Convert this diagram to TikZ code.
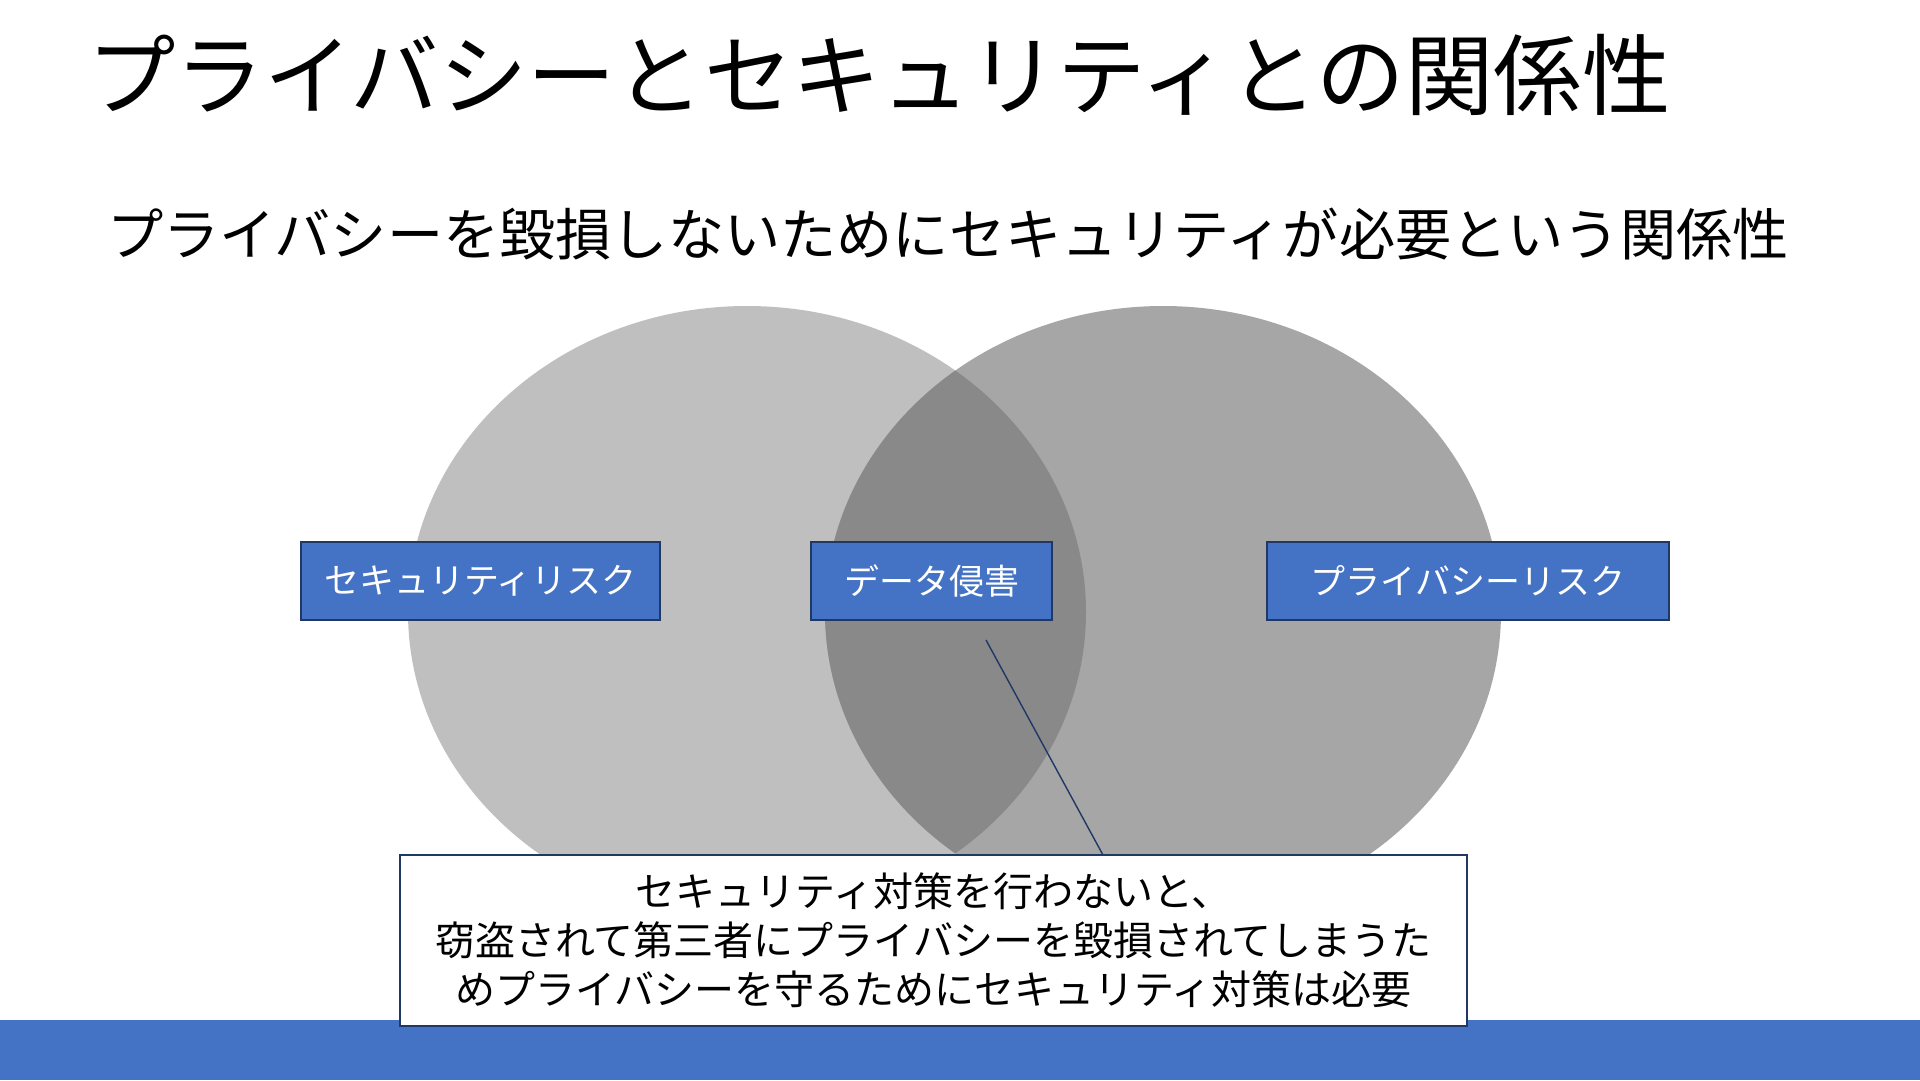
\documentclass[tikz,border=0pt]{standalone}
\usepackage{fontspec}
\setmainfont{Noto Sans CJK JP}
\definecolor{accent}{HTML}{4472C4}
\definecolor{navy}{HTML}{203864}
\definecolor{leftgray}{HTML}{BFBFBF}
\definecolor{rightgray}{HTML}{A6A6A6}
\definecolor{midgray}{HTML}{898989}
\tikzset{
  riskbox/.style={draw=navy, line width=1.6pt, fill=accent, text=white, inner sep=0pt,
    minimum height=78pt, font=\fontsize{35}{42}\selectfont},
  notebox/.style={draw=navy, line width=1.6pt, fill=white, inner sep=0pt, align=center,
    minimum width=1067pt, minimum height=171pt, font=\fontsize{40}{49}\selectfont},
  titletext/.style={anchor=west, inner sep=0pt, font=\fontsize{88.4}{100}\selectfont},
  subtext/.style={anchor=west, inner sep=0pt, font=\fontsize{56.2}{66}\selectfont},
}
\begin{document}
\begin{tikzpicture}[x=1pt, y=-1pt]
\useasboundingbox (0,0) rectangle (1920,1080);
\fill[white] (0,0) rectangle (1920,1080);
% title
\node[titletext] (title) at (87,75) {プライバシーとセキュリティとの関係性};
\node[subtext] (sub) at (107,234) {プライバシーを毀損しないためにセキュリティが必要という関係性};
% venn
\fill[leftgray] (747,612) ellipse [x radius=339pt, y radius=306pt];
\fill[rightgray] (1163,612) ellipse [x radius=338pt, y radius=306pt];
\begin{scope}
  \clip (747,612) ellipse [x radius=339pt, y radius=306pt];
  \fill[midgray] (1163,612) ellipse [x radius=338pt, y radius=306pt];
\end{scope}
% boxes
\node[riskbox, minimum width=359pt] (secrisk) at (480.5,581) {セキュリティリスク};
\node[riskbox, minimum width=241pt] (breach) at (931.5,581) {データ侵害};
\node[riskbox, minimum width=402pt] (privrisk) at (1468,581) {プライバシーリスク};
% bottom bar
\fill[accent] (0,1020) rectangle (1920,1080);
% callout
\node[notebox] (note) at (933.5,940.5) {セキュリティ対策を行わないと、\\窃盗されて第三者にプライバシーを毀損されてしまうた\\めプライバシーを守るためにセキュリティ対策は必要};
\coordinate (tip) at (986,640);
\coordinate (base) at (1103,855);
\draw[navy, line width=1.4pt] (tip) -- (base);
\end{tikzpicture}
\end{document}
